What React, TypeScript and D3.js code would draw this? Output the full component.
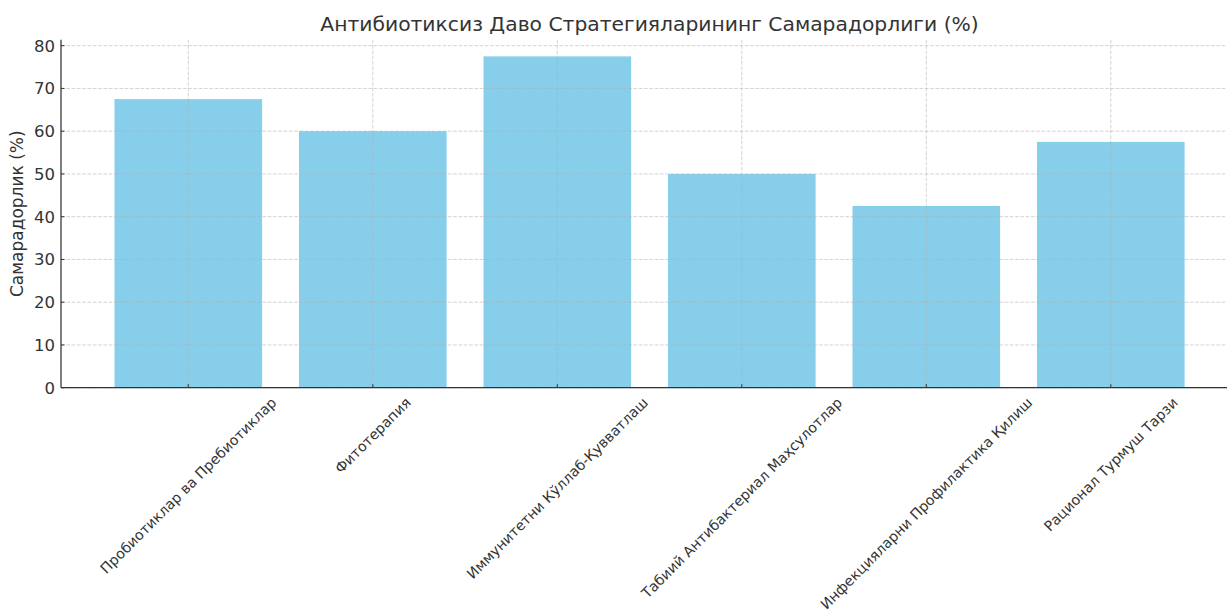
import { useMemo } from 'react'
import * as d3 from 'd3'

const categories = [
  'Пробиотиклар ва Пребиотиклар',
  'Фитотерапия',
  'Иммунитетни Кўллаб-Қувватлаш',
  'Табиий Антибактериал Маҳсулотлар',
  'Инфекцияларни Профилактика Қилиш',
  'Рационал Турмуш Тарзи',
]
const values = [67.5, 60, 77.5, 50, 42.5, 57.5]
const yTicks = [0, 10, 20, 30, 40, 50, 60, 70, 80]

const title = 'Антибиотиксиз Даво Стратегияларининг Самарадорлиги (%)'
const yLabel = 'Самарадорлик (%)'

const W = 1227
const H = 613
const FONT = '"DejaVu Sans", sans-serif'
const xFont = 14.2

export default function App() {
  const margin = { top: 0, left: 61, bottom: 387.7 }

  const { x, y } = useMemo(() => {
    const xScale = d3
      .scaleBand<string>()
      .domain(categories)
      .range([margin.left, 1238.1])
      .paddingInner(0.2)
      .paddingOuter(0.29)
    const yMax = (d3.max(values) || 0) * 1.05
    const yScale = d3
      .scaleLinear()
      .domain([0, yMax])
      .range([margin.bottom, margin.bottom - yMax * 4.275])
    return { x: xScale, y: yScale }
  }, [])

  // label widths for placing the rotated tick labels
  const widths = useMemo(() => {
    const ctx = document.createElement('canvas').getContext('2d')
    if (!ctx) return categories.map(() => 200)
    ctx.font = `${xFont}px ${FONT}`
    return categories.map((c) => ctx.measureText(c).width)
  }, [])

  const [y0, y1] = y.range()
  const bw = x.bandwidth()

  return (
    <svg
      width={W}
      height={H}
      style={{ position: 'absolute', left: 0, top: 0, background: '#fff' }}
      fontFamily={FONT}
    >
      <text
        x={(margin.left + 1238.1) / 2}
        y={31}
        textAnchor="middle"
        fontSize={20.3}
        fill="#333"
      >
        {title}
      </text>

      {values.map((v, i) => (
        <rect
          key={categories[i]}
          x={x(categories[i])}
          y={y(v)}
          width={bw}
          height={y0 - y(v)}
          fill="#87CEEB"
        />
      ))}

      <g stroke="#b0b0b0" strokeOpacity={0.7} strokeWidth={0.8} strokeDasharray="3.7,1.6">
        {yTicks.map((t) => (
          <line key={t} x1={margin.left} x2={W} y1={y(t)} y2={y(t)} />
        ))}
        {categories.map((c) => {
          const cx = (x(c) || 0) + bw / 2
          return <line key={c} x1={cx} x2={cx} y1={y1} y2={y0} />
        })}
      </g>

      <g stroke="#333" strokeWidth={1}>
        {yTicks.map((t) => (
          <line key={t} x1={margin.left} x2={margin.left + 3.5} y1={y(t)} y2={y(t)} />
        ))}
        {categories.map((c) => {
          const cx = (x(c) || 0) + bw / 2
          return <line key={c} x1={cx} x2={cx} y1={y0} y2={y0 - 3.5} />
        })}
      </g>

      <line x1={margin.left} x2={margin.left} y1={y1} y2={y0} stroke="#333" strokeWidth={1.25} />
      <line x1={margin.left} x2={W} y1={y0} y2={y0} stroke="#333" strokeWidth={1.25} />

      <g fontSize={16.5} fill="#333" textAnchor="end">
        {yTicks.map((t) => (
          <text key={t} x={55} y={y(t)} dy="0.36em">
            {t}
          </text>
        ))}
      </g>

      <g fontSize={xFont} fill="#333" textAnchor="middle">
        {categories.map((c, i) => {
          const cx = (x(c) || 0) + bw / 2
          const half = ((widths[i] + xFont * 1.2) * Math.SQRT1_2) / 2
          const cy = 394 + half
          return (
            <text
              key={c}
              x={cx}
              y={cy}
              dy="0.35em"
              transform={`rotate(-45 ${cx} ${cy})`}
            >
              {c}
            </text>
          )
        })}
      </g>

      <text
        transform={`translate(23 ${(y0 + y1) / 2}) rotate(-90)`}
        textAnchor="middle"
        fontSize={17}
        fill="#333"
      >
        {yLabel}
      </text>
    </svg>
  )
}
